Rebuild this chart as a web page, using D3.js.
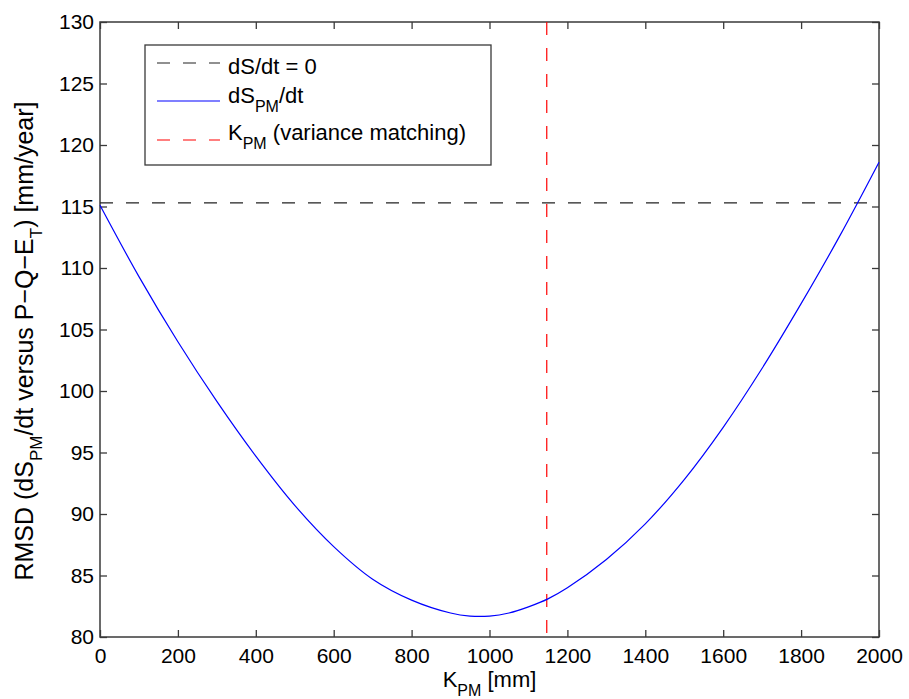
<!DOCTYPE html>
<html>
<head>
<meta charset="utf-8">
<script src="https://d3js.org/d3.v7.min.js"></script>
<style>
  body { margin: 0; background: #fff; }
  text { font-family: "Liberation Sans", Arial, Helvetica, sans-serif; fill: #000; }
</style>
</head>
<body>
<div id="chart"></div>
<script>
// K_PM [mm] and RMSD [mm/year]
var kValues = [0, 100, 200, 300, 400, 500, 600, 700, 800, 900, 950, 1000, 1050, 1100, 1150,
               1200, 1300, 1400, 1500, 1600, 1700, 1800, 1900, 2000];
var rmsdValues = [115.1, 109.3, 104.0, 99.15, 94.7, 90.7, 87.35, 84.7, 83.0, 81.95, 81.7, 81.7, 81.95, 82.45, 83.1,
                  84.0, 86.3, 89.2, 92.8, 97.05, 101.85, 107.1, 112.65, 118.6];
var zeroLevel = 115.3;     // dS/dt = 0 reference
var kVarMatch = 1147;      // K_PM from variance matching
var xTicks = [0, 200, 400, 600, 800, 1000, 1200, 1400, 1600, 1800, 2000];
var yTicks = [80, 85, 90, 95, 100, 105, 110, 115, 120, 125, 130];

var margin = {top: 22, right: 30, bottom: 62, left: 100};
var W = 909, H = 699;
var width = W - margin.left - margin.right,
    height = H - margin.top - margin.bottom;

var x = d3.scaleLinear().domain([0, 2000]).range([0, width]);
var y = d3.scaleLinear().domain([80, 130]).range([height, 0]);

var svg = d3.select('#chart').append('svg')
  .attr('width', W).attr('height', H);
var g = svg.append('g')
  .attr('transform', 'translate(' + margin.left + ',' + margin.top + ')');

var axisColor = '#3a3a3a';
var fmt = d3.format('d');

// axes with inward ticks, mirrored on top/right like matlab box
function styleAxis(sel) {
  sel.select('.domain').remove();
  sel.selectAll('.tick line').attr('stroke', axisColor).attr('stroke-width', 1.3);
  sel.selectAll('.tick text').style('font-size', '21px').attr('fill', '#000');
}
g.append('g').attr('transform', 'translate(0,' + height + ')')
  .call(d3.axisBottom(x).tickValues(xTicks).tickFormat(fmt).tickSizeInner(-7).tickSizeOuter(0).tickPadding(11))
  .call(styleAxis);
g.append('g')
  .call(d3.axisTop(x).tickValues(xTicks).tickSizeInner(-7).tickSizeOuter(0).tickFormat(''))
  .call(styleAxis);
g.append('g')
  .call(d3.axisLeft(y).tickValues(yTicks).tickFormat(fmt).tickSizeInner(-7).tickSizeOuter(0).tickPadding(6))
  .call(styleAxis);
g.append('g').attr('transform', 'translate(' + width + ',0)')
  .call(d3.axisRight(y).tickValues(yTicks).tickSizeInner(-7).tickSizeOuter(0).tickFormat(''))
  .call(styleAxis);

g.append('rect')
  .attr('width', width).attr('height', height)
  .attr('fill', 'none').attr('stroke', axisColor).attr('stroke-width', 1.5);

// horizontal dS/dt = 0 line
g.append('line')
  .attr('x1', x(0)).attr('x2', x(2000))
  .attr('y1', y(zeroLevel)).attr('y2', y(zeroLevel))
  .attr('stroke', '#222').attr('stroke-width', 1.2)
  .attr('stroke-dasharray', '13,13');

// vertical variance-matching line
g.append('line')
  .attr('x1', x(kVarMatch)).attr('x2', x(kVarMatch))
  .attr('y1', y(130)).attr('y2', y(80))
  .attr('stroke', '#ff0000').attr('stroke-width', 1.2)
  .attr('stroke-dasharray', '13,13');

// RMSD curve
var line = d3.line()
  .x(function(d, i) { return x(kValues[i]); })
  .y(function(d) { return y(d); })
  .curve(d3.curveCatmullRom.alpha(0.5));
g.append('path').datum(rmsdValues)
  .attr('d', line)
  .attr('fill', 'none')
  .attr('stroke', '#0000ff')
  .attr('stroke-width', 1.2);

// legend
var lg = svg.append('g').attr('transform', 'translate(145,45)');
lg.append('rect').attr('width', 346).attr('height', 120)
  .attr('fill', '#fff').attr('stroke', axisColor).attr('stroke-width', 1.3);
var legendRows = [
  {label: 'dS/dt = 0', color: '#222', dash: '13,13', sub: null},
  {label: 'dS', color: '#0000ff', dash: null, sub: 'PM', after: '/dt'},
  {label: 'K', color: '#ff0000', dash: '13,13', sub: 'PM', after: ' (variance matching)'}
];
var lineY = [18, 56, 95];
var textY = [29, 58, 95];
legendRows.forEach(function(r, i) {
  lg.append('line')
    .attr('x1', 12).attr('x2', 75)
    .attr('y1', lineY[i]).attr('y2', lineY[i])
    .attr('stroke', r.color).attr('stroke-width', 1.2)
    .attr('stroke-dasharray', r.dash);
  var t = lg.append('text').attr('x', 83).attr('y', textY[i]).style('font-size', '22px');
  t.append('tspan').text(r.label);
  if (r.sub) {
    t.append('tspan').attr('dy', 9).style('font-size', '16px').text(r.sub);
    t.append('tspan').attr('dy', -9).text(r.after);
  }
});

// x label
var xl = svg.append('text')
  .attr('x', margin.left + width / 2).attr('y', 687)
  .attr('text-anchor', 'middle').style('font-size', '22px');
xl.append('tspan').text('K');
xl.append('tspan').attr('dy', 9).style('font-size', '16px').text('PM');
xl.append('tspan').attr('dy', -9).text(' [mm]');

// y label
var yl = svg.append('text')
  .attr('transform', 'translate(33,341) rotate(-90)')
  .attr('text-anchor', 'middle').style('font-size', '25px');
yl.append('tspan').text('RMSD (dS');
yl.append('tspan').attr('dy', 9).style('font-size', '17px').text('PM');
yl.append('tspan').attr('dy', -9).text('/dt versus P\u2212Q\u2212E');
yl.append('tspan').attr('dy', 9).style('font-size', '17px').text('T');
yl.append('tspan').attr('dy', -9).text(') [mm/year]');
</script>
</body>
</html>
